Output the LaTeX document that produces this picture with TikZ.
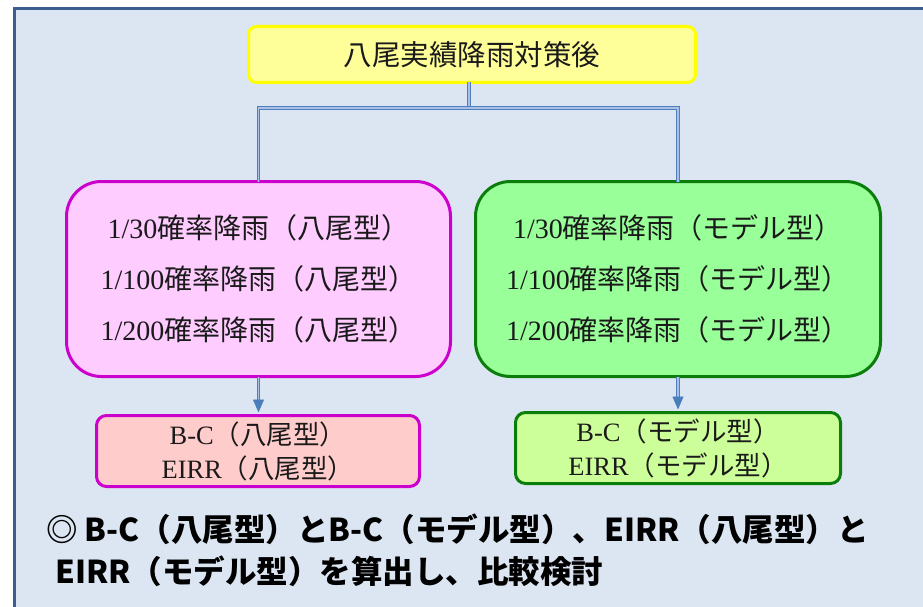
\documentclass[tikz,border=0pt]{standalone}
\usepackage{fontspec}
\setmainfont{Liberation Serif}
\newfontfamily\cjk{Noto Sans CJK JP}
\usetikzlibrary{arrows.meta}
\definecolor{bgblue}{HTML}{DCE6F2}
\definecolor{framecol}{HTML}{3A5F8F}
\definecolor{yfill}{HTML}{FFFF99}
\definecolor{ydraw}{HTML}{FFFF00}
\definecolor{pfill}{HTML}{FFCCFF}
\definecolor{pdraw}{HTML}{CC00CC}
\definecolor{gfill}{HTML}{99FF99}
\definecolor{gdraw}{HTML}{0A7D0A}
\definecolor{rpfill}{HTML}{FFCCCC}
\definecolor{rgfill}{HTML}{CCFF99}
\definecolor{conncol}{HTML}{4F7FC0}
\definecolor{connin}{HTML}{A9C0E4}
\definecolor{tipcol}{HTML}{4A7EBB}
\definecolor{txt}{HTML}{1A1A1A}
\tikzset{
  topbox/.style={draw=ydraw, fill=yfill, line width=3pt, rounded corners=8pt,
    minimum width=447pt, minimum height=56pt, inner sep=0pt, text=txt,
    font=\fontsize{28.5}{32}\selectfont\cjk},
  bigbox/.style={line width=3pt, rounded corners=35pt, minimum height=195pt,
    inner sep=0pt, align=center, text=txt, font=\fontsize{28}{51}\selectfont},
  resbox/.style={line width=3pt, rounded corners=10pt, minimum height=71pt,
    inner sep=0pt, align=center, text=txt, font=\fontsize{26.5}{34}\selectfont},
  conn/.style={draw=conncol, line width=1pt, double=connin, double distance=1.2pt},
  tip/.style={-{Triangle[length=13pt,width=11pt]}, draw=tipcol, fill=tipcol, line width=0.8pt},
  note/.style={anchor=north west, inner sep=0pt, align=left, text=black,
    font=\fontsize{31.5}{42}\selectfont\cjk\bfseries}
}
\begin{document}
\begin{tikzpicture}[x=1pt,y=-1pt]
\useasboundingbox (0,0) rectangle (923,607);
\fill[white] (0,0) rectangle (923,607);
\draw[framecol, line width=2.5pt, fill=bgblue] (14.5,8.5) rectangle (940,630);

\node[topbox] (top) at (472,54.5) {八尾実績降雨対策後};

\node[bigbox, draw=pdraw, fill=pfill, minimum width=384pt] (lb) at (258.5,279)
  {1/30{\cjk 確率降雨（八尾型）}\\1/100{\cjk 確率降雨（八尾型）}\\1/200{\cjk 確率降雨（八尾型）}};
\node[bigbox, draw=gdraw, fill=gfill, minimum width=405pt] (rb) at (678,279)
  {1/30{\cjk 確率降雨（モデル型）}\\1/100{\cjk 確率降雨（モデル型）}\\1/200{\cjk 確率降雨（モデル型）}};

\node[resbox, draw=pdraw, fill=rpfill, minimum width=323pt] (lr) at (258,451)
  {B-C{\cjk （八尾型）}\\EIRR{\cjk （八尾型）}};
\node[resbox, draw=gdraw, fill=rgfill, minimum width=325pt] (rr) at (678,448)
  {B-C{\cjk （モデル型）}\\EIRR{\cjk （モデル型）}};

\coordinate (bus) at (0,108);
\draw[conn] ([xshift=-3pt,yshift=1.5pt]top.south) -- ([xshift=-3pt]top.south |- bus);
\draw[conn] ([yshift=-1.5pt]lb.north) -- (lb.north |- bus) -- (rb.north |- bus) -- ([yshift=-1.5pt]rb.north);

\draw[conn] ([yshift=1.5pt]lb.south) -- ([yshift=12pt]lb.south |- lr.north);
\draw[tip] ([yshift=13pt]lb.south |- lr.north) -- ([yshift=1.5pt]lb.south |- lr.north);
\draw[conn] ([yshift=1.5pt]rb.south) -- ([yshift=12pt]rb.south |- rr.north);
\draw[tip] ([yshift=13pt]rb.south |- rr.north) -- ([yshift=1.5pt]rb.south |- rr.north);

\node[note] (nt) at (46,514) {◎ B-C（八尾型）とB-C（モデル型）、EIRR（八尾型）と\\\hspace*{9pt}EIRR（モデル型）を算出し、比較検討};
\end{tikzpicture}
\end{document}
